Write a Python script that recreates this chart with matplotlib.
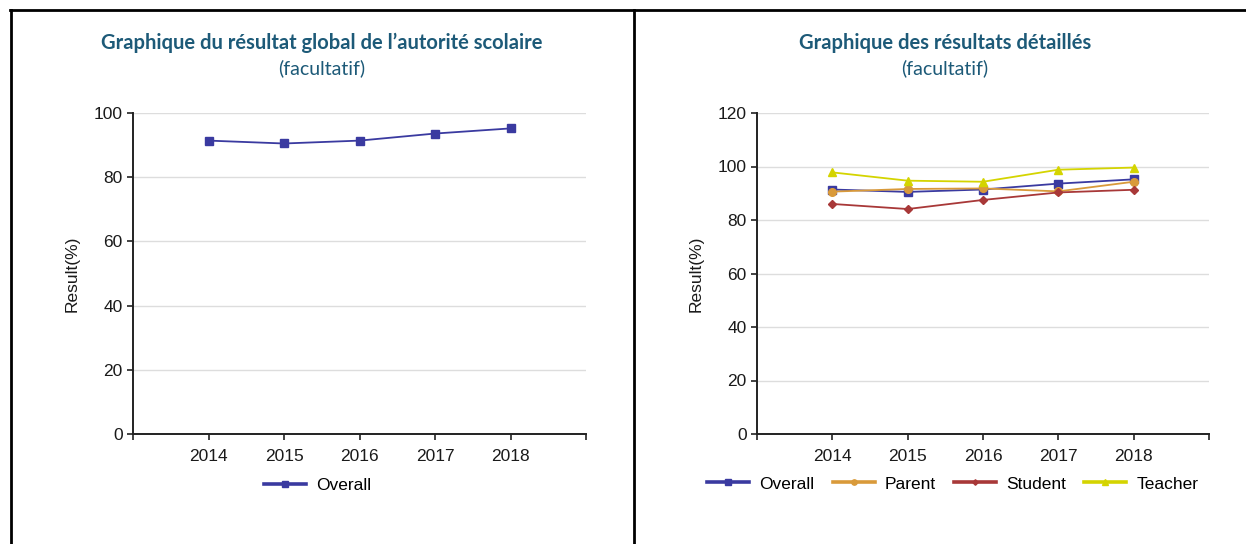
import numpy as np
import matplotlib
matplotlib.use("Agg")
import matplotlib.pyplot as plt
from matplotlib.lines import Line2D

years = ["2014", "2015", "2016", "2017", "2018"]
overall = [91.4, 90.5, 91.4, 93.6, 95.2]
parent = [90.6, 91.6, 91.8, 90.7, 94.3]
student = [86.0, 84.1, 87.5, 90.3, 91.3]
teacher = [97.8, 94.7, 94.3, 98.8, 99.6]

title_left = "Graphique du résultat global de l’autorité scolaire"
title_right = "Graphique des résultats détaillés"
subtitle = "(facultatif)"

W, H = 1246, 544
plt.rcParams["font.family"] = ["Liberation Sans", "DejaVu Sans"]
fs = 12.5

fig = plt.figure(figsize=(W / 100, H / 100), dpi=100)


def px_axes(x0, x1, y_top, y_bot):
    return fig.add_axes([x0 / W, 1 - y_bot / H, (x1 - x0) / W, (y_bot - y_top) / H])


def style_axes(ax, ymax, step):
    x = np.arange(len(years))
    ax.set_xlim(-1, len(years))
    ax.set_ylim(0, ymax)
    ax.set_yticks(np.arange(0, ymax + 1, step))
    ax.set_xticks(np.arange(-1, len(years) + 1))
    ax.set_xticklabels([""] + years + [""])
    for s in ["top", "right"]:
        ax.spines[s].set_visible(False)
    for s in ["left", "bottom"]:
        ax.spines[s].set_color("#222222")
        ax.spines[s].set_linewidth(1.4)
    ax.tick_params(axis="both", direction="out", length=4, width=1.2, color="#222222",
                   labelcolor="#1a1a1a", labelsize=fs)
    ax.tick_params(axis="x", pad=7)
    ax.grid(axis="y", color="#dddddd", linewidth=1)
    ax.set_axisbelow(True)
    ax.set_ylabel("Result(%)", fontsize=fs, color="#1a1a1a", labelpad=10)
    return x


def thick_legend(leg):
    for h in leg.legend_handles:
        h.set_linewidth(2.6)


title_color = "#1d5a78"

# left chart
ax1 = px_axes(133, 586, 113, 434)
x = style_axes(ax1, 100, 20)
ax1.plot(x, overall, color="#3a3aa0", linewidth=1.3, marker="s", markersize=5.5, label="Overall")
leg = fig.legend(*ax1.get_legend_handles_labels(), loc="center", bbox_to_anchor=(318 / W, 1 - 485 / H),
                 frameon=False, handlelength=2.4, handletextpad=0.6, fontsize=fs, markerscale=0.7)
thick_legend(leg)

# right chart
ax2 = px_axes(757, 1209, 113, 434)
x = style_axes(ax2, 120, 20)
ax2.plot(x, overall, color="#3a3aa0", linewidth=1.3, marker="s", markersize=5.5, label="Overall")
ax2.plot(x, parent, color="#d99a3a", linewidth=1.3, marker="o", markersize=5.5, label="Parent")
ax2.plot(x, student, color="#a83838", linewidth=1.3, marker="D", markersize=4, label="Student")
ax2.plot(x, teacher, color="#d4d400", linewidth=1.3, marker="^", markersize=5.5, label="Teacher")
leg = fig.legend(*ax2.get_legend_handles_labels(), loc="center", bbox_to_anchor=(953 / W, 1 - 484 / H),
                 ncol=4, frameon=False, handlelength=2.4, handletextpad=0.6, columnspacing=1.05,
                 fontsize=fs, markerscale=0.7)
thick_legend(leg)

# titles
for cx, t in [(322, title_left), (945, title_right)]:
    fig.text(cx / W, 1 - 43 / H, t, ha="center", va="center", color=title_color,
             fontsize=14.5, fontweight="bold", family=["Lato", "DejaVu Sans"])
    fig.text(cx / W, 1 - 68 / H, subtitle, ha="center", va="center", color=title_color,
             fontsize=14, family=["Lato", "DejaVu Sans"])

# frame lines
lw = 2
fig.add_artist(Line2D([10 / W, 1], [1 - 10 / H, 1 - 10 / H], color="black", linewidth=lw))
fig.add_artist(Line2D([11 / W, 11 / W], [0, 1 - 10 / H], color="black", linewidth=lw))
fig.add_artist(Line2D([634 / W, 634 / W], [0, 1 - 10 / H], color="black", linewidth=lw))

fig.savefig("out.png", dpi=100)
